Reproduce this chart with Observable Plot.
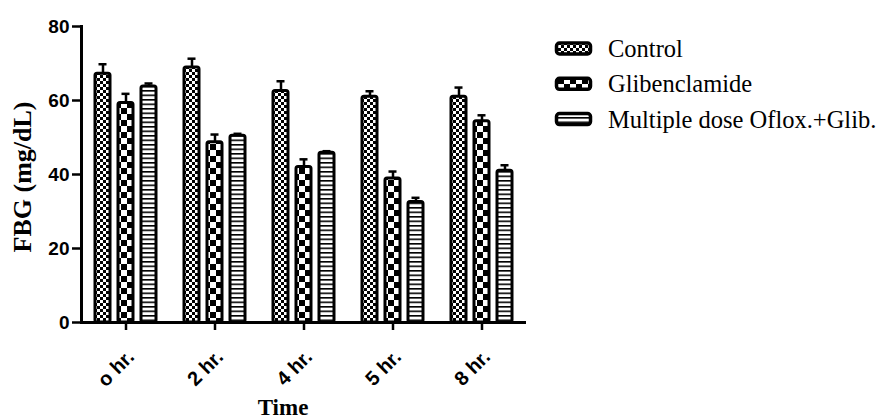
<!DOCTYPE html>
<html><head><meta charset="utf-8">
<script src="https://cdn.jsdelivr.net/npm/d3@7"></script>
<script src="https://cdn.jsdelivr.net/npm/@observablehq/plot@0.6"></script>
<style>
body{margin:0;background:#fff}
g[aria-label="y-axis tick label"] text{font-size:19px;font-weight:bold;font-family:"Liberation Sans",Arial,sans-serif}
g[aria-label="fx-axis tick label"] text{font-size:20px;font-weight:bold;font-family:"Liberation Sans",Arial,sans-serif}
text.serif{font-family:"Liberation Serif","Times New Roman","DejaVu Serif",serif}
</style>
</head><body><div id="chart"></div>
<script>
const times = ["o hr.", "2 hr.", "4 hr.", "5 hr.", "8 hr."];
const series = ["Control", "Glibenclamide", "Multiple dose Oflox.+Glib."];
const control = [67.2, 68.9, 62.6, 61.0, 61.0];
const controlErr = [2.6, 2.4, 2.6, 1.5, 2.5];
const glib = [59.3, 48.7, 42.0, 38.9, 54.4];
const glibErr = [2.5, 2.1, 2.1, 1.9, 1.6];
const multi = [63.8, 50.5, 45.9, 32.6, 41.0];
const multiErr = [0.8, 0.5, 0.4, 1.1, 1.5];
const yTicks = [0, 20, 40, 60, 80];
const patternIds = ["pControl", "pGlib", "pMulti"];

const data = [];
[control, glib, multi].forEach((vals, si) => {
  const errs = [controlErr, glibErr, multiErr][si];
  times.forEach((t, i) => data.push({time: t, series: series[si], value: vals[i], err: errs[i], top: vals[i] + errs[i]}));
});

const plot = Plot.plot({
  width: 887, height: 419,
  marginLeft: 80, marginRight: 360, marginTop: 26, marginBottom: 97,
  style: {background: "#fff", fontFamily: "'Liberation Sans', Arial, sans-serif", color: "#000"},
  fx: {domain: times, padding: 0, label: null, axis: null},
  x: {domain: series, paddingInner: 0.333, paddingOuter: 0.53, axis: null},
  y: {domain: [0, 80], ticks: yTicks, label: null},
  color: {domain: series, range: patternIds.map(id => `url(#${id})`)},
  marks: [
    Plot.barY(data, {fx: "time", x: "series", y: "value", fill: "series", stroke: "#000", strokeWidth: 3, rx: 2}),
    Plot.ruleX(data, {fx: "time", x: "series", y1: "value", y2: "top", stroke: "#000", strokeWidth: 2.5}),
    Plot.tickY(data, {fx: "time", x: "series", y: "top", stroke: "#000", strokeWidth: 2.5, insetLeft: 3.5, insetRight: 3.5}),
    Plot.ruleY([0], {stroke: "#000", strokeWidth: 3}),
    Plot.frame({anchor: "left", facetAnchor: "left", stroke: "#000", strokeWidth: 3}),
    Plot.axisY({ticks: yTicks, tickSize: 9, tickPadding: 3, fontSize: 19, fontWeight: "bold", strokeWidth: 2.5, label: null}),
    Plot.axisFx({anchor: "bottom", tickSize: 8, text: null, strokeWidth: 2.5, label: null}),
    Plot.axisFx({anchor: "bottom", tickSize: 0, tickRotate: -45, tickPadding: 4, fontSize: 20, fontWeight: "bold", label: null, dx: 5, dy: 27})
  ]
});

const svg = d3.select(plot);
const defs = svg.insert("defs", ":first-child");
// Control: fine checkerboard
const p1 = defs.append("pattern").attr("id", "pControl").attr("patternUnits", "userSpaceOnUse").attr("width", 6).attr("height", 6);
p1.append("rect").attr("width", 6).attr("height", 6).attr("fill", "#fff");
p1.append("rect").attr("width", 3).attr("height", 3).attr("fill", "#000");
p1.append("rect").attr("x", 3).attr("y", 3).attr("width", 3).attr("height", 3).attr("fill", "#000");
// Glibenclamide: coarse checkerboard
const p2 = defs.append("pattern").attr("id", "pGlib").attr("patternUnits", "userSpaceOnUse").attr("width", 12).attr("height", 12);
p2.append("rect").attr("width", 12).attr("height", 12).attr("fill", "#fff");
p2.append("rect").attr("width", 6).attr("height", 6).attr("fill", "#000");
p2.append("rect").attr("x", 6).attr("y", 6).attr("width", 6).attr("height", 6).attr("fill", "#000");
// Multiple dose: horizontal stripes
const p3 = defs.append("pattern").attr("id", "pMulti").attr("patternUnits", "userSpaceOnUse").attr("width", 10).attr("height", 4.5);
p3.append("rect").attr("width", 10).attr("height", 4.5).attr("fill", "#fff");
p3.append("rect").attr("width", 10).attr("height", 1.6).attr("fill", "#000");

// Axis titles
svg.append("text").attr("class", "serif").attr("transform", "translate(31,177) rotate(-90)").attr("text-anchor", "middle")
  .style("font-weight", "bold").style("font-size", "26px")
  .attr("fill", "#000").text("FBG (mg/dL)");
svg.append("text").attr("class", "serif").attr("x", 283).attr("y", 415).attr("text-anchor", "middle")
  .style("font-weight", "bold").style("font-size", "23px")
  .attr("fill", "#000").text("Time");

// Legend
const lg = svg.append("g").attr("text-anchor", "start");
series.forEach((s, i) => {
  const cy = 48.5 + i * 35.3;
  lg.append("rect").attr("x", 556.5).attr("y", cy - 5.5).attr("width", 34).attr("height", 11).attr("rx", 3)
    .attr("fill", `url(#${patternIds[i]})`).attr("stroke", "#000").attr("stroke-width", 3.5);
  lg.append("text").attr("class", "serif").attr("x", 608).attr("y", cy + 8.5).attr("text-anchor", "start")
    .style("font-size", "24.5px").style("font-weight", "normal")
    .attr("fill", "#000").text(s);
});

document.getElementById("chart").appendChild(plot);
</script>
</body></html>
